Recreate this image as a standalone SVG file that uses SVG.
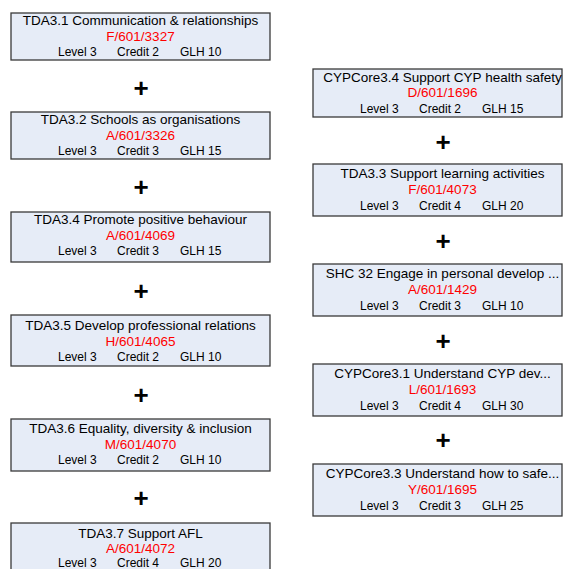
<svg xmlns="http://www.w3.org/2000/svg" width="563" height="569" viewBox="0 0 563 569">
<style>
.box{fill:#E6ECF7;stroke:#3a3a3a;stroke-width:1.3}
.t{font-family:"Liberation Sans",Arial,sans-serif;font-size:13.5px;fill:#000;text-anchor:middle}
.c{font-family:"Liberation Sans",Arial,sans-serif;font-size:13.5px;fill:#FF0000;text-anchor:middle}
.d{font-family:"Liberation Sans",Arial,sans-serif;font-size:12px;fill:#000}
.p{font-family:"Liberation Sans",Arial,sans-serif;font-size:26px;font-weight:bold;fill:#000;text-anchor:middle}
</style>
<rect width="563" height="569" fill="#fff"/>
<g id="connectors">
<text class="p" x="141" y="97">+</text>
<text class="p" x="141" y="196">+</text>
<text class="p" x="141" y="300">+</text>
<text class="p" x="141" y="404">+</text>
<text class="p" x="141" y="507">+</text>
<text class="p" x="443" y="151">+</text>
<text class="p" x="443" y="250">+</text>
<text class="p" x="443" y="350">+</text>
<text class="p" x="443" y="449">+</text>
</g>
<g id="tda31" transform="translate(11,13)">
<rect class="box" width="259" height="47"/>
<text class="t" x="129.5" y="12">TDA3.1 Communication &amp; relationships</text>
<text class="c" x="129.5" y="28">F/601/3327</text>
<text class="d" x="47" y="43">Level 3</text><text class="d" x="106" y="43">Credit 2</text><text class="d" x="169" y="43">GLH 10</text>
</g>
<g id="tda32" transform="translate(11,112)">
<rect class="box" width="259" height="47"/>
<text class="t" x="129.5" y="12">TDA3.2 Schools as organisations</text>
<text class="c" x="129.5" y="28">A/601/3326</text>
<text class="d" x="47" y="43">Level 3</text><text class="d" x="106" y="43">Credit 3</text><text class="d" x="169" y="43">GLH 15</text>
</g>
<g id="tda34" transform="translate(11,212)">
<rect class="box" width="259" height="50"/>
<text class="t" x="129.5" y="12">TDA3.4 Promote positive behaviour</text>
<text class="c" x="129.5" y="28">A/601/4069</text>
<text class="d" x="47" y="43">Level 3</text><text class="d" x="106" y="43">Credit 3</text><text class="d" x="169" y="43">GLH 15</text>
</g>
<g id="tda35" transform="translate(11,315)">
<rect class="box" width="259" height="51"/>
<text class="t" x="129.5" y="15">TDA3.5 Develop professional relations</text>
<text class="c" x="129.5" y="31">H/601/4065</text>
<text class="d" x="47" y="46">Level 3</text><text class="d" x="106" y="46">Credit 2</text><text class="d" x="169" y="46">GLH 10</text>
</g>
<g id="tda36" transform="translate(11,419)">
<rect class="box" width="259" height="52"/>
<text class="t" x="129.5" y="14">TDA3.6 Equality, diversity &amp; inclusion</text>
<text class="c" x="129.5" y="30">M/601/4070</text>
<text class="d" x="47" y="45">Level 3</text><text class="d" x="106" y="45">Credit 2</text><text class="d" x="169" y="45">GLH 10</text>
</g>
<g id="tda37" transform="translate(11,523)">
<rect class="box" width="259" height="52"/>
<text class="t" x="129.5" y="15">TDA3.7 Support AFL</text>
<text class="c" x="129.5" y="30">A/601/4072</text>
<text class="d" x="47" y="44">Level 3</text><text class="d" x="106" y="44">Credit 4</text><text class="d" x="169" y="44">GLH 20</text>
</g>
<g id="cyp34" transform="translate(313,69)">
<rect class="box" width="249" height="48"/>
<text class="t" x="129.5" y="13">CYPCore3.4 Support CYP health safety</text>
<text class="c" x="129.5" y="28">D/601/1696</text>
<text class="d" x="47" y="44">Level 3</text><text class="d" x="106" y="44">Credit 2</text><text class="d" x="169" y="44">GLH 15</text>
</g>
<g id="tda33" transform="translate(313,164)">
<rect class="box" width="249" height="52"/>
<text class="t" x="129.5" y="14">TDA3.3 Support learning activities</text>
<text class="c" x="129.5" y="30">F/601/4073</text>
<text class="d" x="47" y="46">Level 3</text><text class="d" x="106" y="46">Credit 4</text><text class="d" x="169" y="46">GLH 20</text>
</g>
<g id="shc32" transform="translate(313,264)">
<rect class="box" width="249" height="52"/>
<text class="t" x="129.5" y="14">SHC 32 Engage in personal develop ...</text>
<text class="c" x="129.5" y="30">A/601/1429</text>
<text class="d" x="47" y="46">Level 3</text><text class="d" x="106" y="46">Credit 3</text><text class="d" x="169" y="46">GLH 10</text>
</g>
<g id="cyp31" transform="translate(313,364)">
<rect class="box" width="249" height="52"/>
<text class="t" x="129.5" y="14">CYPCore3.1 Understand CYP dev...</text>
<text class="c" x="129.5" y="30">L/601/1693</text>
<text class="d" x="47" y="46">Level 3</text><text class="d" x="106" y="46">Credit 4</text><text class="d" x="169" y="46">GLH 30</text>
</g>
<g id="cyp33" transform="translate(313,464)">
<rect class="box" width="249" height="52"/>
<text class="t" x="129.5" y="14">CYPCore3.3 Understand how to safe...</text>
<text class="c" x="129.5" y="30">Y/601/1695</text>
<text class="d" x="47" y="46">Level 3</text><text class="d" x="106" y="46">Credit 3</text><text class="d" x="169" y="46">GLH 25</text>
</g>
</svg>
